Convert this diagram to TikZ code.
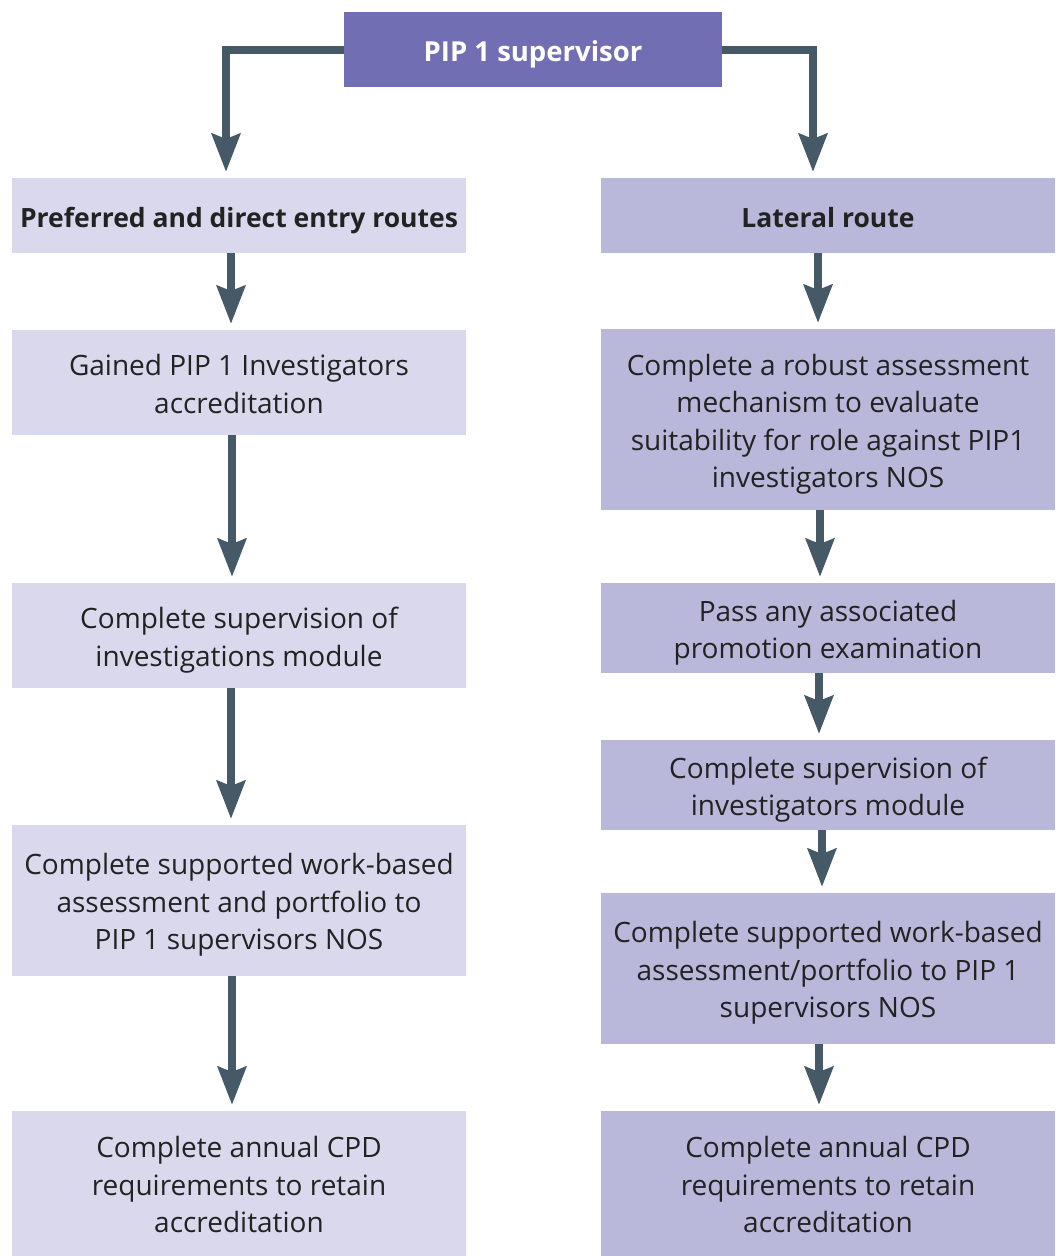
\documentclass[tikz,border=0pt]{standalone}
\usepackage{fontspec}
\setmainfont{Open Sans}
\usetikzlibrary{arrows.meta,calc}
\definecolor{topfill}{HTML}{726EB3}
\definecolor{leftfill}{HTML}{DAD8EC}
\definecolor{rightfill}{HTML}{B9B7DA}
\definecolor{arrowcol}{HTML}{455A66}
\definecolor{textcol}{HTML}{222222}
% centred lines of text, set a little low in their box
\newcommand{\boxtext}[1]{\raisebox{-4.3pt}[\height][\depth]{\begin{tabular}{@{}c@{}}#1\end{tabular}}}
\begin{document}
\begin{tikzpicture}[x=1pt,y=-1pt,
  every node/.style={inner sep=0pt, outer sep=0pt, text=textcol,
    font=\fontsize{28}{37.5}\selectfont},
  topbox/.style={fill=topfill, minimum width=378pt, minimum height=75pt, text=white,
    font=\fontsize{27.5}{37.5}\selectfont\bfseries},
  lbox/.style={fill=leftfill, minimum width=454pt},
  rbox/.style={fill=rightfill, minimum width=454pt},
  headtext/.style={font=\fontsize{26.5}{37.5}\selectfont\bfseries},
  arr/.style={draw=arrowcol, line width=8pt,
    -{Stealth[length=38pt, width=28pt, inset=5pt]}, shorten >=6pt}]
\useasboundingbox (0,0) rectangle (1060,1256);

% top node
\node[topbox] (top) at (533,49.5) {\boxtext{PIP 1 supervisor}};

% left column
\node[lbox, headtext, minimum height=75pt] (lh) at (239,215.5) {\boxtext{Preferred and direct entry routes}};
\node[lbox, minimum height=105pt] (l1) at (239,382.5) {\boxtext{Gained PIP 1 Investigators\\accreditation}};
\node[lbox, minimum height=105pt] (l2) at (239,635.5) {\boxtext{Complete supervision of\\investigations module}};
\node[lbox, minimum height=151pt] (l3) at (239,900.5) {\boxtext{Complete supported work-based\\assessment and portfolio to\\PIP 1 supervisors NOS}};
\node[lbox, minimum height=145pt] (l4) at (239,1183.5) {\boxtext{Complete annual CPD\\requirements to retain\\accreditation}};

% right column
\node[rbox, headtext, minimum height=75pt] (rh) at (828,215.5) {\boxtext{Lateral route}};
\node[rbox, minimum height=181pt] (r1) at (828,419.5) {\boxtext{Complete a robust assessment\\mechanism to evaluate\\suitability for role against PIP1\\investigators NOS}};
\node[rbox, minimum height=90pt] (r2) at (828,628) {\boxtext{Pass any associated\\promotion examination}};
\node[rbox, minimum height=90pt] (r3) at (828,785) {\boxtext{Complete supervision of\\investigators module}};
\node[rbox, minimum height=151pt] (r4) at (828,968.5) {\boxtext{Complete supported work-based\\assessment/portfolio to PIP 1\\supervisors NOS}};
\node[rbox, minimum height=145pt] (r5) at (828,1183.5) {\boxtext{Complete annual CPD\\requirements to retain\\accreditation}};

% branch connectors from the top node
\coordinate (lin) at (226,178);
\coordinate (rin) at (813,178);
\draw[arr] (top.west) -| (lin);
\draw[arr] (top.east) -| (rin);

% left chain
\draw[arr] (lh.south -| 231,0) -- (l1.north -| 231,0);
\draw[arr] (l1.south -| 232,0) -- (l2.north -| 232,0);
\draw[arr] (l2.south -| 231,0) -- (l3.north -| 231,0);
\draw[arr] (l3.south -| 232,0) -- (l4.north -| 232,0);

% right chain
\draw[arr] (rh.south -| 818,0) -- (r1.north -| 818,0);
\draw[arr] (r1.south -| 820,0) -- (r2.north -| 820,0);
\draw[arr] (r2.south -| 819,0) -- (r3.north -| 819,0);
\draw[arr] (r3.south -| 822,0) -- (r4.north -| 822,0);
\draw[arr] (r4.south -| 819,0) -- (r5.north -| 819,0);
\end{tikzpicture}
\end{document}
